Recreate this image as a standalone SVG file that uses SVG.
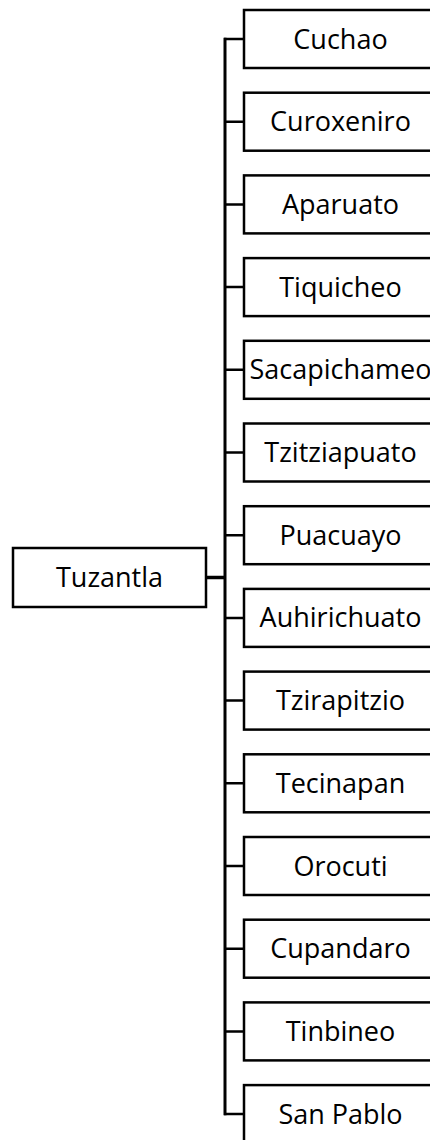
<svg xmlns="http://www.w3.org/2000/svg" width="430" height="1140" viewBox="0 0 430 1140">
<style>
.box{fill:#fff;stroke:#000;stroke-width:2.5}
.lbl{font-family:"Open Sans","Liberation Sans",sans-serif;font-size:27px;fill:#000;text-anchor:middle}
.ln{stroke:#000;stroke-width:2.5;fill:none}
</style>
<rect width="430" height="1140" fill="#fff"/>
<g id="connectors">
<line x1="225" y1="37.8" x2="225" y2="1115.3" stroke="#000" stroke-width="3"/>
<line x1="206" y1="577.5" x2="225" y2="577.5" stroke="#000" stroke-width="3.5"/>
<path class="ln" d="M224 39H244M225 121.7H244M225 204.4H244M225 287.1H244M225 369.8H244M225 452.5H244M225 535.2H244M225 617.9H244M225 700.6H244M225 783.3H244M225 866H244M225 948.7H244M225 1031.4H244M224 1114.1H244"/>
</g>
<g id="n0"><rect class="box" x="13" y="548" width="193" height="59"/><text class="lbl" x="109.5" y="587">Tuzantla</text></g>
<g id="n1"><rect class="box" x="244" y="10" width="193" height="58"/><text class="lbl" x="340.5" y="48.5">Cuchao</text></g>
<g id="n2"><rect class="box" x="244" y="92.7" width="193" height="58"/><text class="lbl" x="340.5" y="131.2">Curoxeniro</text></g>
<g id="n3"><rect class="box" x="244" y="175.4" width="193" height="58"/><text class="lbl" x="340.5" y="213.9">Aparuato</text></g>
<g id="n4"><rect class="box" x="244" y="258.1" width="193" height="58"/><text class="lbl" x="340.5" y="296.6">Tiquicheo</text></g>
<g id="n5"><rect class="box" x="244" y="340.8" width="193" height="58"/><text class="lbl" x="340.5" y="379.3">Sacapichameo</text></g>
<g id="n6"><rect class="box" x="244" y="423.5" width="193" height="58"/><text class="lbl" x="340.5" y="462">Tzitziapuato</text></g>
<g id="n7"><rect class="box" x="244" y="506.2" width="193" height="58"/><text class="lbl" x="340.5" y="544.7">Puacuayo</text></g>
<g id="n8"><rect class="box" x="244" y="588.9" width="193" height="58"/><text class="lbl" x="340.5" y="627.4">Auhirichuato</text></g>
<g id="n9"><rect class="box" x="244" y="671.6" width="193" height="58"/><text class="lbl" x="340.5" y="710.1">Tzirapitzio</text></g>
<g id="n10"><rect class="box" x="244" y="754.3" width="193" height="58"/><text class="lbl" x="340.5" y="792.8">Tecinapan</text></g>
<g id="n11"><rect class="box" x="244" y="837" width="193" height="58"/><text class="lbl" x="340.5" y="875.5">Orocuti</text></g>
<g id="n12"><rect class="box" x="244" y="919.7" width="193" height="58"/><text class="lbl" x="340.5" y="958.2">Cupandaro</text></g>
<g id="n13"><rect class="box" x="244" y="1002.4" width="193" height="58"/><text class="lbl" x="340.5" y="1040.9">Tinbineo</text></g>
<g id="n14"><rect class="box" x="244" y="1085.1" width="193" height="58"/><text class="lbl" x="340.5" y="1123.6">San Pablo</text></g>
</svg>
